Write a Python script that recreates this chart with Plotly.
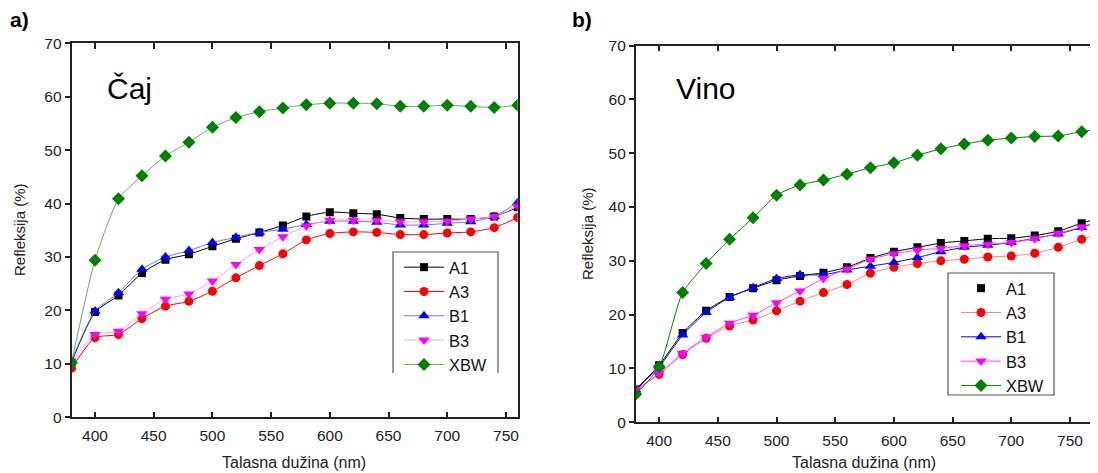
import plotly.graph_objects as go

# ---------------- data ----------------
wl_a = [380, 400, 420, 440, 460, 480, 500, 520, 540, 560, 580, 600, 620, 640, 660, 680, 700, 720, 740, 760]
caj_A1 = [10.3, 19.7, 22.8, 27.0, 29.5, 30.5, 32.0, 33.4, 34.6, 35.9, 37.6, 38.4, 38.2, 38.0, 37.3, 37.1, 37.1, 37.1, 37.6, 39.3]
caj_A3 = [9.2, 14.9, 15.5, 18.5, 20.8, 21.7, 23.6, 26.1, 28.4, 30.6, 33.2, 34.4, 34.7, 34.6, 34.2, 34.2, 34.5, 34.7, 35.5, 37.4]
caj_B1 = [10.6, 19.9, 23.3, 27.7, 30.0, 31.2, 32.7, 33.7, 34.6, 35.2, 36.1, 36.7, 36.7, 36.5, 36.0, 36.0, 36.3, 36.6, 37.6, 40.2]
caj_B3 = [10.3, 15.5, 16.1, 19.4, 22.1, 23.1, 25.5, 28.6, 31.4, 33.8, 35.8, 36.9, 36.9, 36.9, 36.6, 36.6, 36.7, 37.1, 37.6, 39.5]
caj_XBW = [10.2, 29.4, 40.9, 45.2, 48.9, 51.5, 54.3, 56.1, 57.2, 57.9, 58.5, 58.8, 58.8, 58.7, 58.2, 58.2, 58.4, 58.2, 58.0, 58.4]

wl_b = [380, 400, 420, 440, 460, 480, 500, 520, 540, 560, 580, 600, 620, 640, 660, 680, 700, 720, 740, 760, 780]
vino_A1 = [6.1, 10.6, 16.6, 20.7, 23.3, 24.9, 26.4, 27.2, 27.8, 28.8, 30.5, 31.7, 32.5, 33.3, 33.7, 34.1, 34.2, 34.7, 35.5, 37.0, 38.2]
vino_A3 = [6.0, 8.9, 12.6, 15.6, 17.9, 19.0, 20.7, 22.5, 24.1, 25.6, 27.7, 28.8, 29.5, 30.0, 30.3, 30.7, 30.9, 31.4, 32.5, 34.0, 35.3]
vino_B1 = [6.0, 10.3, 16.2, 20.4, 23.2, 25.0, 26.7, 27.4, 27.4, 28.3, 29.0, 29.7, 30.6, 31.7, 32.5, 32.9, 33.4, 34.2, 35.0, 36.2, 37.7]
vino_B3 = [6.0, 9.1, 12.8, 15.8, 18.4, 19.9, 22.2, 24.4, 26.7, 28.5, 30.3, 31.3, 32.0, 32.3, 32.8, 33.1, 33.4, 34.1, 35.1, 36.3, 37.7]
vino_XBW = [5.2, 10.3, 24.1, 29.5, 34.0, 38.0, 42.2, 44.1, 45.0, 46.1, 47.3, 48.2, 49.6, 50.8, 51.7, 52.4, 52.8, 53.1, 53.2, 54.0, 54.6]

x_ticks = [400, 450, 500, 550, 600, 650, 700, 750]
x_ticktext = ["400", "450", "500", "550", "600", "650", "700", "750"]
y_ticks = [0, 10, 20, 30, 40, 50, 60, 70]
y_ticktext = ["0", "10", "20", "30", "40", "50", "60", "70"]

series_names = ["A1", "A3", "B1", "B3", "XBW"]

# ---------------- layout helpers ----------------
# page body has an 8px default margin; work in page pixels and convert
OFF = 8
W, H = 1098 - OFF, 473 - OFF
FONT = "Arial, 'Liberation Sans', sans-serif"


def px(xp):
    return (xp - OFF) / W


def py(yp):
    return 1 - (yp - OFF) / H


fig = go.Figure()

styles_a = {
    "A1": dict(lc="#000000", mc="#000000", sym="square", ms=8),
    "A3": dict(lc="#ff0000", mc="#ff0000", sym="circle", ms=9),
    "B1": dict(lc="#6f6fff", mc="#0000ff", sym="triangle-up", ms=10),
    "B3": dict(lc="#ff9cff", mc="#ff00ff", sym="triangle-down", ms=10),
    "XBW": dict(lc="#6aa86a", mc="#008000", sym="diamond", ms=10),
}
styles_b = {
    "A1": dict(lc="#000000", mc="#000000", sym="square", ms=8),
    "A3": dict(lc="#ff8080", mc="#ff0000", sym="circle", ms=9),
    "B1": dict(lc="#0000ff", mc="#0000ff", sym="triangle-up", ms=10),
    "B3": dict(lc="#ff40ff", mc="#ff00ff", sym="triangle-down", ms=10),
    "XBW": dict(lc="#008000", mc="#008000", sym="diamond", ms=10),
}

data_a = [caj_A1, caj_A3, caj_B1, caj_B3, caj_XBW]
data_b = [vino_A1, vino_A3, vino_B1, vino_B3, vino_XBW]

for name, ys in zip(series_names, data_a):
    s = styles_a[name]
    fig.add_trace(go.Scatter(
        x=wl_a, y=ys, name=name, mode="lines+markers",
        line=dict(color=s["lc"], width=1, shape="spline", smoothing=0.6),
        marker=dict(symbol=s["sym"], size=s["ms"], color=s["mc"], line=dict(width=0)),
        xaxis="x", yaxis="y", legend="legend",
    ))

for name, ys in zip(series_names, data_b):
    s = styles_b[name]
    if name == "A1":
        fig.add_trace(go.Scatter(
            x=wl_b, y=ys, mode="lines", showlegend=False, hoverinfo="skip",
            line=dict(color="#000000", width=1, shape="spline", smoothing=0.6),
            xaxis="x2", yaxis="y2",
        ))
        fig.add_trace(go.Scatter(
            x=wl_b, y=ys, name=name, mode="markers",
            marker=dict(symbol=s["sym"], size=s["ms"], color=s["mc"], line=dict(width=0)),
            xaxis="x2", yaxis="y2", legend="legend2",
        ))
    else:
        fig.add_trace(go.Scatter(
            x=wl_b, y=ys, name=name, mode="lines+markers",
            line=dict(color=s["lc"], width=1, shape="spline", smoothing=0.6),
            marker=dict(symbol=s["sym"], size=s["ms"], color=s["mc"], line=dict(width=0)),
            xaxis="x2", yaxis="y2", legend="legend2",
        ))

axis_common = dict(
    showgrid=False, zeroline=False, showline=True, linecolor="#222222", linewidth=1.6,
    tickfont=dict(family=FONT, size=15.5, color="#222222"), tickcolor="#222222",
    automargin=False,
)

# panel geometry (page pixels)
a_l, a_r, a_t, a_b = 71.5, 517.7, 43.3, 417.3
b_l, b_r, b_t, b_b = 635.7, 1098, 45.5, 422.3

xa = dict(axis_common, tickmode="array", tickvals=x_ticks, ticktext=x_ticktext,
          ticks="inside", ticklen=6, tickwidth=1.5, mirror="ticks", ticklabelstandoff=3)
ya = dict(axis_common, tickmode="array", tickvals=y_ticks, ticktext=y_ticktext,
          ticks="outside", ticklen=5, tickwidth=1.5, range=[0, 70])

fig.update_layout(
    template="none",
    width=W, height=H,
    margin=dict(l=0, r=0, t=0, b=0, pad=0, autoexpand=False),
    paper_bgcolor="white", plot_bgcolor="white",
    font=dict(family=FONT, color="#111111"),
    xaxis=dict(xa, domain=[px(a_l), px(a_r)], range=[380, 760], anchor="y"),
    yaxis=dict(ya, domain=[py(a_b), py(a_t)], mirror=True, anchor="x"),
    xaxis2=dict(xa, domain=[px(b_l), px(b_r)], range=[380, 773.9], anchor="y2"),
    yaxis2=dict(ya, domain=[py(b_b), py(b_t)], mirror=False, anchor="x2"),
    legend=dict(x=px(399), y=py(250), xanchor="left", yanchor="top",
                bgcolor="rgba(255,255,255,0)", borderwidth=0,
                font=dict(family=FONT, size=16.4, color="#111111"),
                itemwidth=40, tracegroupgap=0),
    legend2=dict(x=px(956), y=py(271), xanchor="left", yanchor="top",
                 bgcolor="rgba(255,255,255,0)", borderwidth=0,
                 font=dict(family=FONT, size=16.4, color="#111111"),
                 itemwidth=40, tracegroupgap=0),
    showlegend=True,
)

# legend frames
fig.add_shape(type="path", xref="paper", yref="paper",
              path=f"M {px(393)} {py(373)} L {px(393)} {py(252)} L {px(498)} {py(252)} L {px(498)} {py(373)}",
              line=dict(color="#555555", width=1.2))
fig.add_shape(type="rect", xref="paper", yref="paper",
              x0=px(948), x1=px(1054), y0=py(395), y1=py(273),
              line=dict(color="#555555", width=1.2))

ann = []
ann.append(dict(text="<b>a)</b>", x=px(8), y=py(20), xanchor="left", yanchor="middle",
                font=dict(family=FONT, size=21, color="#000000")))
ann.append(dict(text="<b>b)</b>", x=px(570), y=py(20), xanchor="left", yanchor="middle",
                font=dict(family=FONT, size=21, color="#000000")))
ann.append(dict(text="Čaj", x=px(105), y=py(88), xanchor="left", yanchor="middle",
                font=dict(family=FONT, size=30, color="#000000")))
ann.append(dict(text="Vino", x=px(674), y=py(88), xanchor="left", yanchor="middle",
                font=dict(family=FONT, size=30, color="#000000")))
ann.append(dict(text="Refleksija (%)", x=px(19), y=py(230), textangle=-90,
                xanchor="center", yanchor="middle",
                font=dict(family=FONT, size=15, color="#222222")))
ann.append(dict(text="Refleksija (%)", x=px(587), y=py(233), textangle=-90,
                xanchor="center", yanchor="middle",
                font=dict(family=FONT, size=15, color="#222222")))
ann.append(dict(text="Talasna dužina (nm)", x=px(294), y=py(462),
                xanchor="center", yanchor="middle",
                font=dict(family=FONT, size=16, color="#222222")))
ann.append(dict(text="Talasna dužina (nm)", x=px(864), y=py(462),
                xanchor="center", yanchor="middle",
                font=dict(family=FONT, size=16, color="#222222")))
for a in ann:
    a.update(xref="paper", yref="paper", showarrow=False)
fig.update_layout(annotations=ann)

fig.write_html("out.html")
